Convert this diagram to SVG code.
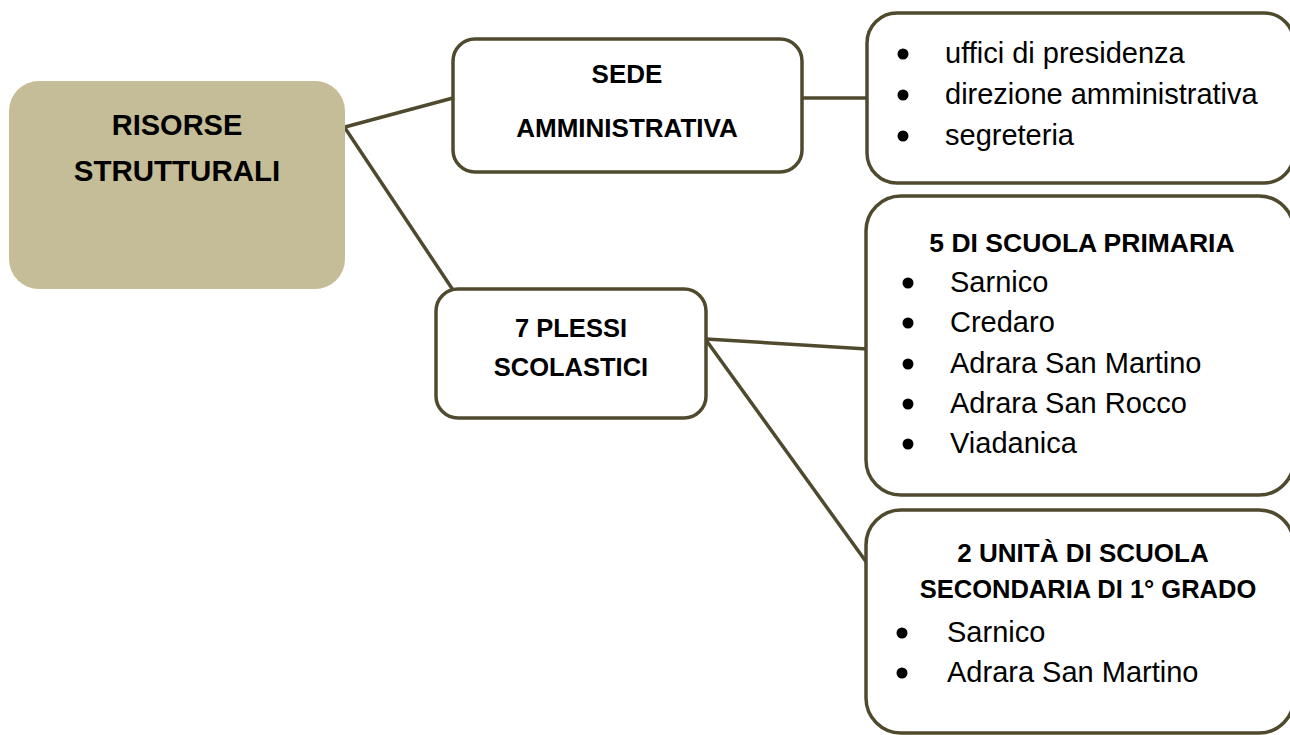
<svg xmlns="http://www.w3.org/2000/svg" width="1290" height="735" viewBox="0 0 1290 735">
<style>
.box{fill:#ffffff;stroke:#4f4a2e;stroke-width:3.5}
.root{fill:#c4bd97}
.conn{stroke:#4f4a2e;stroke-width:3.5;fill:none}
.b{font-family:"Liberation Sans",Arial,sans-serif;font-weight:bold;fill:#000;text-anchor:middle}
.t{font-family:"Liberation Sans",Arial,sans-serif;font-size:29px;fill:#000}
.dot{fill:#000}
</style>
<rect width="1290" height="735" fill="#ffffff"/>
<g id="connectors">
<line class="conn" x1="345" y1="127" x2="453" y2="98"/>
<line class="conn" x1="345" y1="128" x2="453" y2="290"/>
<line class="conn" x1="802" y1="98" x2="867" y2="98"/>
<line class="conn" x1="706" y1="339" x2="867" y2="349"/>
<line class="conn" x1="706" y1="340" x2="867" y2="563"/>
</g>
<g id="root">
<rect class="root" x="9" y="81" width="336" height="208" rx="30"/>
<text class="b" x="177" y="135" font-size="29">RISORSE</text>
<text class="b" x="177" y="181" font-size="29.5">STRUTTURALI</text>
</g>
<g id="sede">
<rect class="box" x="453" y="39" width="349" height="133" rx="22"/>
<text class="b" x="627" y="83" font-size="26">SEDE</text>
<text class="b" x="627" y="137" font-size="26">AMMINISTRATIVA</text>
</g>
<g id="plessi">
<rect class="box" x="436" y="289" width="270" height="129" rx="22"/>
<text class="b" x="571" y="337" font-size="25.5">7 PLESSI</text>
<text class="b" x="571" y="376" font-size="25.5">SCOLASTICI</text>
</g>
<g id="uffici">
<rect class="box" x="867" y="13" width="427" height="170" rx="30"/>
<circle class="dot" cx="903" cy="54" r="5.5"/>
<circle class="dot" cx="903" cy="95" r="5.5"/>
<circle class="dot" cx="903" cy="136" r="5.5"/>
<text class="t" x="945" y="63">uffici di presidenza</text>
<text class="t" x="945" y="104">direzione amministrativa</text>
<text class="t" x="945" y="145">segreteria</text>
</g>
<g id="primaria">
<rect class="box" x="866" y="196" width="428" height="299" rx="35"/>
<text class="b" x="1082" y="252" font-size="26.5">5 DI SCUOLA PRIMARIA</text>
<circle class="dot" cx="908" cy="283" r="5.5"/>
<circle class="dot" cx="908" cy="323" r="5.5"/>
<circle class="dot" cx="908" cy="364" r="5.5"/>
<circle class="dot" cx="908" cy="404" r="5.5"/>
<circle class="dot" cx="908" cy="444" r="5.5"/>
<text class="t" x="950" y="292">Sarnico</text>
<text class="t" x="950" y="332">Credaro</text>
<text class="t" x="950" y="373">Adrara San Martino</text>
<text class="t" x="950" y="413">Adrara San Rocco</text>
<text class="t" x="950" y="453">Viadanica</text>
</g>
<g id="secondaria">
<rect class="box" x="866" y="510" width="428" height="223" rx="35"/>
<text class="b" x="1083" y="562" font-size="26">2 UNITÀ DI SCUOLA</text>
<text class="b" x="1088" y="598" font-size="25.5">SECONDARIA DI 1° GRADO</text>
<circle class="dot" cx="902" cy="633" r="5.5"/>
<circle class="dot" cx="902" cy="673" r="5.5"/>
<text class="t" x="947" y="642">Sarnico</text>
<text class="t" x="947" y="682">Adrara San Martino</text>
</g>
</svg>
